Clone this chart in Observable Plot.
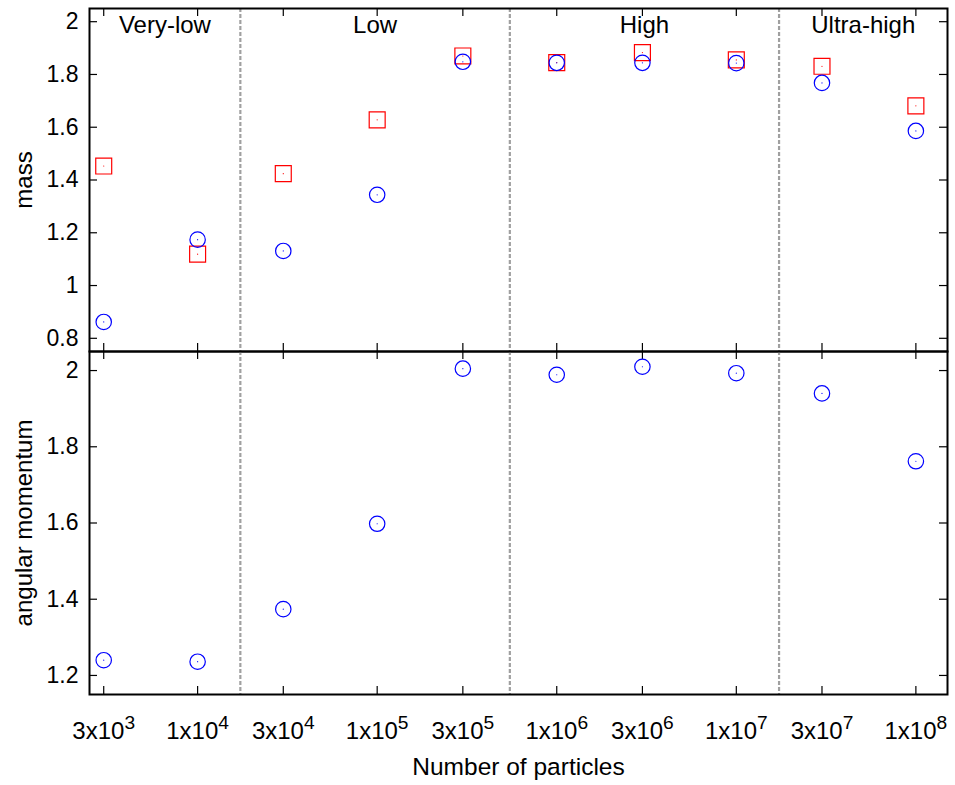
<!DOCTYPE html>
<html><head><meta charset="utf-8">
<script src="https://cdn.jsdelivr.net/npm/d3@7"></script>
<script src="https://cdn.jsdelivr.net/npm/@observablehq/plot@0.6"></script>
<style>body{margin:0;background:#fff} #c svg{display:block}</style>
</head><body><div id="c"></div>
<script>
// ---- data ----
const particles = [3e3, 1e4, 3e4, 1e5, 3e5, 1e6, 3e6, 1e7, 3e7, 1e8];
const tickLabels = ["3x10^3", "1x10^4", "3x10^4", "1x10^5", "3x10^5", "1x10^6", "3x10^6", "1x10^7", "3x10^7", "1x10^8"];
const massCircle = [0.862, 1.174, 1.131, 1.344, 1.848, 1.844, 1.844, 1.843, 1.768, 1.586];
const massSquare = [1.453, 1.119, 1.424, 1.628, 1.870, 1.845, 1.883, 1.855, 1.831, 1.681];
const angularMomentum = [1.240, 1.236, 1.374, 1.598, 2.005, 1.989, 2.010, 1.993, 1.940, 1.762];
const regionNames = ["Very-low", "Low", "High", "Ultra-high"];
const regionBounds = [1.73e4, 5.48e5, 1.73e7];
const xDomain = [2500, 1.5e8];
const massTicks = [0.8, 1, 1.2, 1.4, 1.6, 1.8, 2];
const massDomain = [0.75, 2.05];
const angTicks = [1.2, 1.4, 1.6, 1.8, 2];
const angDomain = [1.15, 2.05];

// ---- layout ----
const W = 955, ML = 89, MR = 8, FH = 343, TL = 8;
const FW = W - ML - MR;
const font = {fontFamily: "'Liberation Sans', Arial, Helvetica, sans-serif", fontSize: "24px", background: "white", color: "black", overflow: "visible"};

const rowsMassC = particles.map((p, i) => ({p, v: massCircle[i]}));
const rowsMassS = particles.map((p, i) => ({p, v: massSquare[i]}));
const rowsAng = particles.map((p, i) => ({p, v: angularMomentum[i]}));
const rowsTick = particles.map((p, i) => ({p, label: tickLabels[i]}));
const edges = [xDomain[0], ...regionBounds, xDomain[1]];
const regions = regionNames.map((name, i) => ({name, x: Math.sqrt(edges[i] * edges[i + 1])}));

function commonMarks(yTicks) {
  return [
    Plot.ruleX(regionBounds, {stroke: "#a0a0a0", strokeWidth: 2.2, strokeDasharray: "4,2"}),
    Plot.tickY(yTicks, {y: d => d, insetRight: FW - TL, stroke: "black", strokeWidth: 1.2}),
    Plot.tickY(yTicks, {y: d => d, insetLeft: FW - TL, stroke: "black", strokeWidth: 1.2}),
    Plot.tickX(particles, {x: d => d, insetBottom: FH - TL, stroke: "black", strokeWidth: 1.2}),
    Plot.tickX(particles, {x: d => d, insetTop: FH - TL, stroke: "black", strokeWidth: 1.2}),
    Plot.axisY(yTicks, {tickSize: 0, tickPadding: 11, tickFormat: d => String(d), label: null, fontSize: 23})
  ];
}

const topChart = Plot.plot({
  width: W, height: 351,
  marginLeft: ML, marginRight: MR, marginTop: 8, marginBottom: 0,
  style: font,
  x: {type: "log", domain: xDomain, axis: null},
  y: {domain: massDomain, axis: null},
  marks: [
    ...commonMarks(massTicks),
    Plot.dot(rowsMassS, {x: "p", y: "v", symbol: "square", r: 9, stroke: "#ff0000", strokeWidth: 1.2}),
    Plot.dot(rowsMassS, {x: "p", y: "v", r: 0.6, fill: "#ff0000", stroke: null}),
    Plot.dot(rowsMassC, {x: "p", y: "v", symbol: "circle", r: 7.7, stroke: "#0000ff", strokeWidth: 1.2}),
    Plot.dot(rowsMassC, {x: "p", y: "v", r: 0.6, fill: "#0000ff", stroke: null}),
    Plot.text(regions, {x: "x", text: "name", frameAnchor: "top", lineAnchor: "bottom", dy: 24, fill: "black"}),
    Plot.text(["mass"], {frameAnchor: "left", textAnchor: "middle", rotate: -90, dx: -58, lineAnchor: "bottom", fill: "black"}),
    Plot.frame({stroke: "black", strokeWidth: 2})
  ]
});

const bottomChart = Plot.plot({
  width: W, height: 785 - 351,
  marginLeft: ML, marginRight: MR, marginTop: 0, marginBottom: 785 - 351 - FH,
  style: font,
  x: {type: "log", domain: xDomain, axis: null},
  y: {domain: angDomain, axis: null},
  marks: [
    ...commonMarks(angTicks),
    Plot.text(rowsTick, {x: "p", text: "label", frameAnchor: "bottom", textAnchor: "middle", lineAnchor: "bottom", dy: 44, fill: "black", fontSize: 24}),
    Plot.dot(rowsAng, {x: "p", y: "v", symbol: "circle", r: 7.7, stroke: "#0000ff", strokeWidth: 1.2}),
    Plot.dot(rowsAng, {x: "p", y: "v", r: 0.6, fill: "#0000ff", stroke: null}),
    Plot.text(["angular momentum"], {frameAnchor: "left", textAnchor: "middle", rotate: -90, dx: -58, lineAnchor: "bottom", fill: "black"}),
    Plot.text(["Number of particles"], {frameAnchor: "bottom", textAnchor: "middle", dy: 80, lineAnchor: "bottom", fill: "black", fontSize: 24.5}),
    Plot.frame({stroke: "black", strokeWidth: 2})
  ]
});

// superscript exponents in x tick labels
const ns = "http://www.w3.org/2000/svg";
for (const t of Array.from(bottomChart.querySelectorAll("text"))) {
  const s = t.textContent;
  if (!s.includes("^")) continue;
  const parts = s.split("^");
  while (t.firstChild) t.removeChild(t.firstChild);
  const b = document.createElementNS(ns, "tspan");
  b.textContent = parts[0];
  const e = document.createElementNS(ns, "tspan");
  e.setAttribute("dy", "-0.52em");
  e.setAttribute("font-size", "0.8em");
  e.textContent = parts[1];
  t.appendChild(b); t.appendChild(e);
}

const c = document.getElementById("c");
c.appendChild(topChart);
c.appendChild(bottomChart);
</script></body></html>
